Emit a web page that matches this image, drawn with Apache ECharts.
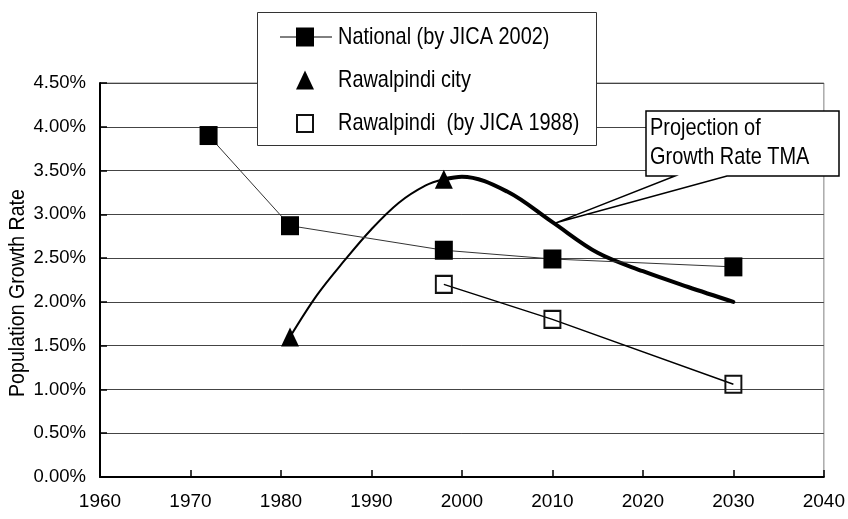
<!DOCTYPE html>
<html><head><meta charset="utf-8">
<script src="https://cdn.jsdelivr.net/npm/echarts@6/dist/echarts.min.js"></script>
<style>html,body{margin:0;padding:0;background:#fff}#c{width:848px;height:519px}</style>
</head><body><div id="c"></div>
<script>
const FONT = "'Liberation Sans',Arial,sans-serif";
const NARROW = 0.83;

// Tick labels
const xTickLabels = ['1960','1970','1980','1990','2000','2010','2020','2030','2040'];
const yTickLabels = ['0.00%','0.50%','1.00%','1.50%','2.00%','2.50%','3.00%','3.50%','4.00%','4.50%'];

// National (by JICA 2002)
const nationalYears = [1972, 1981, 1998, 2010, 2030];
const nationalValues = [3.90, 2.87, 2.59, 2.49, 2.40];

// Rawalpindi city (markers)
const cityYears = [1981, 1998];
const cityValues = [1.60, 3.40];

// Rawalpindi city curve
const cityCurveYears = [1981, 1984, 1987, 1990, 1993, 1996, 1998];
const cityCurveValues = [1.60, 2.08, 2.47, 2.83, 3.13, 3.33, 3.40];

// Projection of Growth Rate TMA
const tmaYears = [1998, 2000, 2005, 2010, 2015, 2020, 2025, 2030];
const tmaValues = [3.40, 3.43, 3.26, 2.91, 2.56, 2.35, 2.17, 2.00];

// Rawalpindi (by JICA 1988)
const jicaYears = [1998, 2010, 2030];
const jicaValues = [2.20, 1.80, 1.06];

const seriesNames = ['National (by JICA 2002)', 'Rawalpindi city', 'Rawalpindi  (by JICA 1988)'];
const calloutLines = ['Projection of', 'Growth Rate TMA'];
const yAxisTitle = 'Population Growth Rate';

const zip = (a, b) => a.map((v, i) => [v, b[i]]);

const chart = echarts.init(document.getElementById('c'), null, {renderer: 'canvas'});

const option = {
  animation: false,
  backgroundColor: '#fff',
  grid: {left: 100, right: 23, top: 83, bottom: 42, show: true, borderColor: '#808080', borderWidth: 1},
  xAxis: {
    type: 'value', min: 1960, max: 2040, interval: 10,
    axisLine: {onZero: false, lineStyle: {color: '#000', width: 2}},
    axisTick: {inside: true, length: 7, lineStyle: {color: '#000', width: 1.5}},
    axisLabel: {margin: 15, fontFamily: FONT, fontSize: 19, color: '#000',
      formatter: v => xTickLabels[Math.round((v - 1960) / 10)]},
    splitLine: {show: false}
  },
  yAxis: {
    type: 'value', min: 0, max: 4.5, interval: 0.5,
    axisLine: {show: true, onZero: false, lineStyle: {color: '#000', width: 2}},
    axisTick: {show: true, inside: true, length: 7, lineStyle: {color: '#000', width: 1.5}},
    axisLabel: {margin: 14, fontFamily: FONT, fontSize: 18.5, color: '#000',
      formatter: v => yTickLabels[Math.round(v / 0.5)]},
    splitLine: {show: true, lineStyle: {color: '#444', width: 1}}
  },
  series: [
    {
      name: seriesNames[0], type: 'line', data: zip(nationalYears, nationalValues),
      symbol: 'rect', symbolSize: [18, 19], showAllSymbol: true,
      lineStyle: {color: '#333', width: 1}, itemStyle: {color: '#000', opacity: 1}, z: 3
    },
    {
      name: 'city curve', type: 'line', data: zip(cityCurveYears, cityCurveValues),
      smooth: 0.35, showSymbol: false, symbol: 'none',
      lineStyle: {color: '#000', width: 2}, z: 2, silent: true
    },
    {
      name: 'TMA', type: 'line', data: zip(tmaYears, tmaValues),
      smooth: 0.35, showSymbol: false, symbol: 'none',
      lineStyle: {color: '#000', width: 4, cap: 'round'}, z: 2, silent: true
    },
    {
      name: seriesNames[1], type: 'scatter', data: zip(cityYears, cityValues),
      symbol: 'triangle', symbolSize: [18, 19], itemStyle: {color: '#000', opacity: 1}, z: 4
    },
    {
      name: seriesNames[2], type: 'line', data: zip(jicaYears, jicaValues),
      symbol: 'rect', symbolSize: [16, 17], showAllSymbol: true,
      lineStyle: {color: '#000', width: 1.5},
      itemStyle: {color: 'rgba(0,0,0,0)', borderColor: '#111', borderWidth: 2, opacity: 1}, z: 3
    }
  ]
};
chart.setOption(option);

// Callout tip on TMA curve near 2010
const tip = chart.convertToPixel({gridIndex: 0}, [2010.3, 2.90]);
const bx0 = 646, by0 = 111, bx1 = 839, by1 = 176;
const txt = (x, y, s, size, extra) => Object.assign({type: 'text', x: x, y: y, scaleX: NARROW,
  style: {text: s, font: size + 'px ' + FONT, fill: '#000', verticalAlign: 'middle'}, z: 102}, extra || {});

chart.setOption({
  graphic: [
    // Legend box
    {type: 'rect', shape: {x: 257.5, y: 12.5, width: 339, height: 133},
      style: {fill: '#fff', stroke: '#333', lineWidth: 1}, z: 100},
    {type: 'line', shape: {x1: 280, y1: 37, x2: 332, y2: 37}, style: {stroke: '#000', lineWidth: 1}, z: 101},
    {type: 'rect', shape: {x: 296, y: 27.5, width: 18, height: 19}, style: {fill: '#000'}, z: 102},
    {type: 'polygon', shape: {points: [[305, 70.5], [296, 89.5], [314, 89.5]]}, style: {fill: '#000'}, z: 102},
    {type: 'rect', shape: {x: 297, y: 115, width: 16, height: 17}, style: {fill: 'none', stroke: '#111', lineWidth: 2}, z: 102},
    txt(338, 37, seriesNames[0], 24),
    txt(338, 80, seriesNames[1], 24),
    txt(338, 123, seriesNames[2], 24),
    // Callout
    {type: 'polygon', shape: {points: [[bx0, by0], [bx1, by0], [bx1, by1], [727, by1], [tip[0], tip[1]], [675, by1], [bx0, by1]]},
      style: {fill: '#fff', stroke: '#000', lineWidth: 1.5, lineJoin: 'miter'}, z: 100},
    txt(650, 128, calloutLines[0], 24),
    txt(650, 157, calloutLines[1], 24),
    // Y axis title
    {type: 'text', x: 18, y: 293, rotation: Math.PI / 2, scaleX: 0.89,
      style: {text: yAxisTitle, font: '22px ' + FONT, fill: '#000', align: 'center', verticalAlign: 'middle'}, z: 102}
  ]
});
</script>
</body></html>
